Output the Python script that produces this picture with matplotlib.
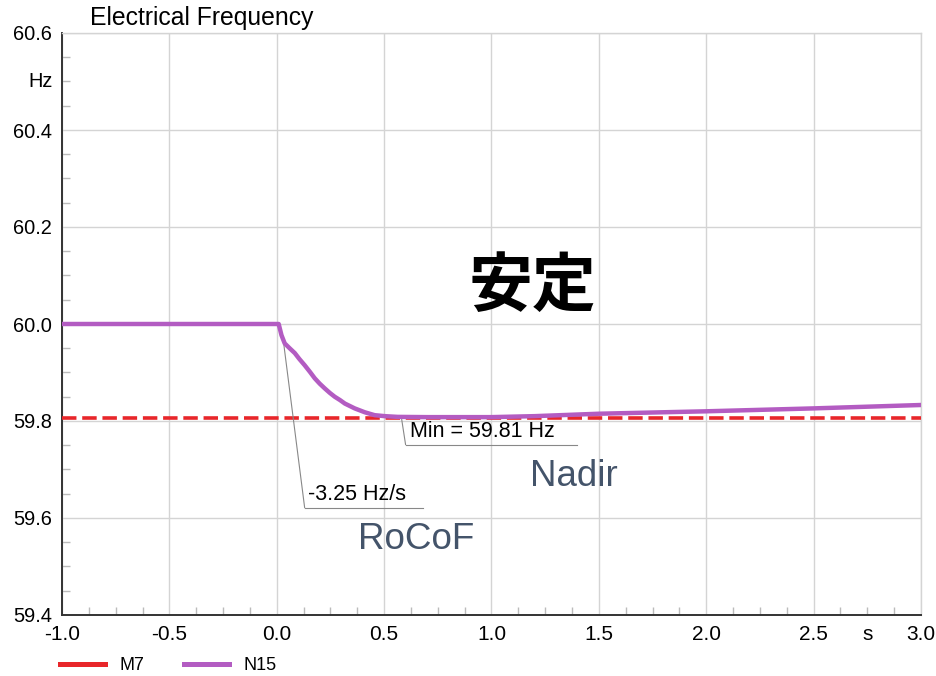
import numpy as np
import matplotlib.pyplot as plt
from matplotlib.lines import Line2D
from matplotlib.ticker import MultipleLocator

plt.rcParams['font.family'] = ['Liberation Sans', 'DejaVu Sans']

# N15 frequency trace (s, Hz)
t = [-1.0, 0.0, 0.009, 0.022, 0.037, 0.06, 0.084, 0.105, 0.13, 0.155, 0.177, 0.2,
     0.224, 0.247, 0.27, 0.295, 0.317, 0.34, 0.363, 0.41, 0.456, 0.503, 0.563, 0.7,
     0.85, 1.0, 1.2, 1.5, 2.0, 2.5, 3.0]
f = [60.0, 60.0, 60.0, 59.977, 59.960, 59.950, 59.940, 59.928, 59.915, 59.901, 59.888, 59.877,
     59.867, 59.858, 59.850, 59.843, 59.836, 59.831, 59.826, 59.818, 59.812, 59.810, 59.8085, 59.808,
     59.808, 59.808, 59.810, 59.815, 59.820, 59.826, 59.833]
# M7 limit
m7_t = [-1.0, 3.0]
m7_f = [59.807, 59.807]

yticks = [59.4, 59.6, 59.8, 60.0, 60.2, 60.4, 60.6]
xticks = [-1.0, -0.5, 0.0, 0.5, 1.0, 1.5, 2.0, 2.5, 3.0]

purple = '#B35CC2'
red = '#E8262A'
slate = '#44546A'

fig = plt.figure(figsize=(9.37, 6.76), dpi=100)
ax = fig.add_axes([62/937, 1-615/676, (921-62)/937, (615-33)/676])

ax.plot(m7_t, m7_f, color=red, lw=2.6, ls=(0, (4.0, 1.6)), zorder=3)
ax.plot(t, f, color=purple, lw=3.2, zorder=4, solid_joinstyle='round')

ax.set_xlim(-1.0, 3.0)
ax.set_ylim(59.4, 60.6)
ax.set_xticks(xticks)
ax.set_xticklabels(['%.1f' % v for v in xticks], fontsize=15)
ax.set_yticks(yticks)
ax.set_yticklabels(['%.1f' % v for v in yticks], fontsize=14.4)
ax.xaxis.set_minor_locator(MultipleLocator(0.125))
ax.yaxis.set_minor_locator(MultipleLocator(0.05))
ax.tick_params(which='major', length=0, pad=7)
ax.tick_params(axis='x', which='major', pad=7)
ax.tick_params(which='minor', direction='in', length=6, width=1, color='#BBBBBB')
ax.grid(True, which='major', color='#D4D4D4', lw=1)
ax.set_axisbelow(True)
for s in ['top', 'right']:
    ax.spines[s].set_color('#D4D4D4')
    ax.spines[s].set_linewidth(1)
for s in ['left', 'bottom']:
    ax.spines[s].set_color('#333333')
    ax.spines[s].set_linewidth(1.4)

ax.annotate('Hz', xy=(0, 60.5), xycoords=('axes fraction', 'data'), xytext=(-7, 0),
            textcoords='offset points', ha='right', va='center', fontsize=14.4)
ax.annotate('s', xy=(2.752, 0), xycoords=('data', 'axes fraction'), xytext=(0, -7),
            textcoords='offset points', ha='center', va='top', fontsize=15)

fig.text(90/937, 1-18/676, 'Electrical Frequency', fontsize=17.8, ha='left', va='center')

# annotations
ax.annotate('', xy=(0.03, np.interp(0.03, t, f)), xytext=(0.13, 59.621),
            arrowprops=dict(arrowstyle='-', color='#888888', lw=0.8, shrinkA=0, shrinkB=0))
ax.plot([0.13, 0.68], [59.621, 59.621], color='#888888', lw=0.8, zorder=2)
ax.text(0.145, 59.626, '-3.25 Hz/s', fontsize=15.5, ha='left', va='bottom')

ax.annotate('', xy=(0.58, np.interp(0.58, t, f)), xytext=(0.60, 59.751),
            arrowprops=dict(arrowstyle='-', color='#888888', lw=0.8, shrinkA=0, shrinkB=0))
ax.plot([0.60, 1.40], [59.751, 59.751], color='#888888', lw=0.8, zorder=2)
ax.text(0.62, 59.756, 'Min = 59.81 Hz', fontsize=15.5, ha='left', va='bottom')

ax.text(1.383, 59.685, 'Nadir', fontsize=26.5, color=slate, ha='center', va='center')
ax.text(0.647, 59.555, 'RoCoF', fontsize=26.5, color=slate, ha='center', va='center')
ax.text(1.192, 60.076, '安定', fontsize=46, fontweight='bold', ha='center', va='center',
        family=['Noto Sans CJK JP', 'DejaVu Sans'])

handles = [Line2D([], [], color=red, lw=3.6), Line2D([], [], color=purple, lw=3.6)]
fig.legend(handles, ['M7', 'N15'], loc='center left', bbox_to_anchor=(60/937, 1-666/676),
           ncol=2, frameon=False, fontsize=13, handlelength=2.5, handletextpad=0.8,
           columnspacing=2.2, borderpad=0, borderaxespad=0)

plt.savefig('out.png', dpi=100)
